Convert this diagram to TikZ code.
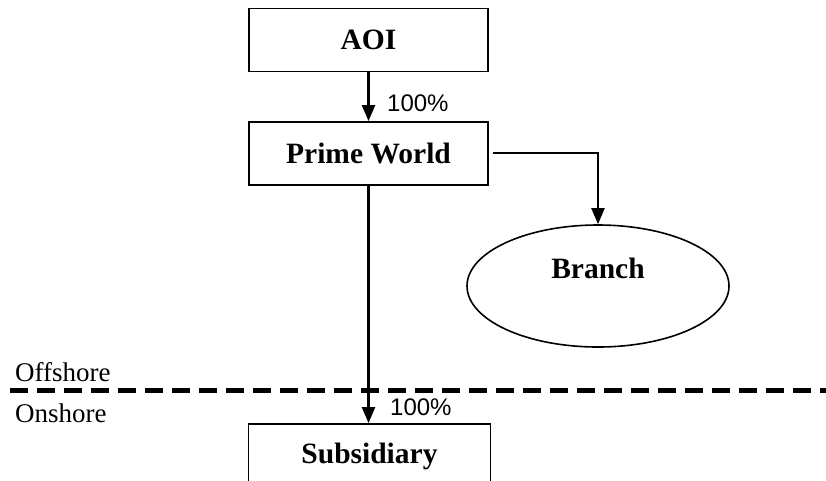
\documentclass[tikz,border=0pt]{standalone}
\usepackage{fontspec}
\setmainfont{Liberation Serif}
\newfontfamily\pctfont{Liberation Sans}
\usetikzlibrary{arrows.meta,shapes.geometric}
\tikzset{
  entity/.style={draw, line width=1.8pt, minimum width=239pt, minimum height=63pt, inner sep=0pt, font=\fontsize{29.5}{30}\selectfont\bfseries},
  oval/.style={draw, ellipse, line width=1.6pt, minimum width=262pt, minimum height=122pt, inner sep=0pt},
  boldtxt/.style={inner sep=0pt, font=\fontsize{29.5}{30}\selectfont\bfseries},
  pct/.style={inner sep=0pt, anchor=west, font=\pctfont\fontsize{24}{26}\selectfont},
  side/.style={inner sep=0pt, anchor=west, font=\fontsize{27}{28}\selectfont},
  link/.style={line width=2.3pt, -{Triangle[width=13pt,length=16pt]}},
  border/.style={line width=5pt, dash pattern=on 18pt off 9pt}
}
\begin{document}
\begin{tikzpicture}[x=1pt,y=-1pt]
\useasboundingbox (0,0) rectangle (826,480);
\fill[white] (0,0) rectangle (826,480);
\node[entity] (aoi) at (368.5,40) {AOI};
\node[entity] (pw) at (368.5,153.5) {Prime World};
\node[entity, minimum width=242pt, minimum height=64pt] (sub) at (369.5,456) {Subsidiary};
\node[oval] (branch) at (598,286) {};
\node[boldtxt] (branchtxt) at (598,268) {Branch};
\coordinate (bend) at (598,153);
\coordinate (dl) at (10,390);
\coordinate (dr) at (830,390);
\draw[border] (dl) -- (dr);
\draw[link] (aoi.south) -- (pw.north);
\draw[link] (pw.south) -- (pw.south |- sub.north);
\draw[link, shorten <=4pt] (pw.east |- bend) -- (bend) -- (branch.north);
\node[pct] (p1) at (387,103) {100\%};
\node[pct] (p2) at (390,407) {100\%};
\node[side] (off) at (15,372) {Offshore};
\node[side] (on) at (15,413) {Onshore};
\end{tikzpicture}
\end{document}
